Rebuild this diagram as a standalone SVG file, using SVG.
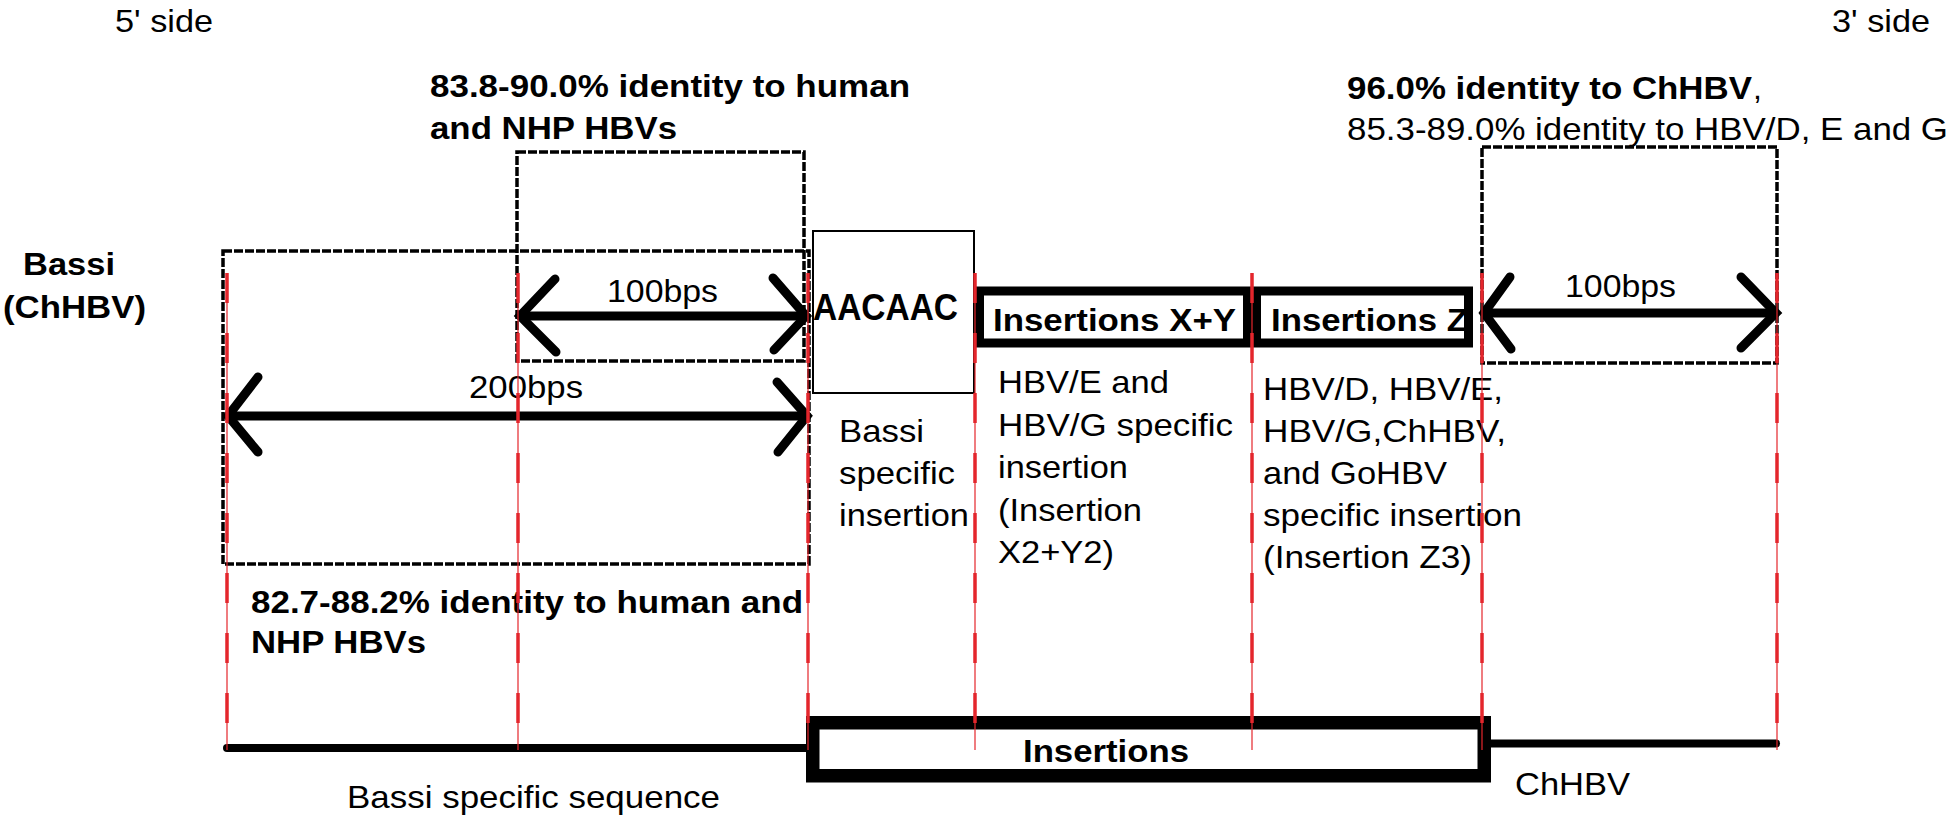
<svg xmlns="http://www.w3.org/2000/svg" width="1952" height="816" viewBox="0 0 1952 816">
<style>
text{font-family:"Liberation Sans",Arial,sans-serif;font-size:32px;fill:#000}
.b{font-weight:bold}
.dot{fill:none;stroke:#000;stroke-width:3.5;stroke-dasharray:9 2}
.arr{fill:none;stroke:#000;stroke-width:9;stroke-linecap:round;stroke-linejoin:miter}
.red{fill:none;stroke:#e4262c;stroke-width:1.2}
.redd{fill:none;stroke:#e4262c;stroke-width:3.5;stroke-dasharray:30 30}
.box{fill:#fff;stroke:#000;stroke-width:9}
</style>
<rect width="1952" height="816" fill="#fff"/>

<g id="side-labels">
<text x="115" y="32" textLength="98" lengthAdjust="spacingAndGlyphs">5' side</text>
<text x="1832" y="32" textLength="98" lengthAdjust="spacingAndGlyphs">3' side</text>
</g>

<g id="bassi-label">
<text class="b" x="23" y="275" textLength="92" lengthAdjust="spacingAndGlyphs">Bassi</text>
<text class="b" x="3" y="318" textLength="143" lengthAdjust="spacingAndGlyphs">(ChHBV)</text>
</g>

<g id="identity-100-left">
<text class="b" x="430" y="97" textLength="480" lengthAdjust="spacingAndGlyphs">83.8-90.0% identity to human</text>
<text class="b" x="430" y="139" textLength="247" lengthAdjust="spacingAndGlyphs">and NHP HBVs</text>
<rect class="dot" x="517" y="152" width="287" height="209"/>
</g>

<g id="identity-200-left">
<rect class="dot" x="223" y="251" width="586" height="313"/>
<text class="b" x="251" y="613" textLength="552" lengthAdjust="spacingAndGlyphs">82.7-88.2% identity to human and</text>
<text class="b" x="251" y="653" textLength="175" lengthAdjust="spacingAndGlyphs">NHP HBVs</text>
</g>

<g id="identity-100-right">
<text class="b" x="1347" y="99" textLength="405" lengthAdjust="spacingAndGlyphs">96.0% identity to ChHBV</text>
<text x="1753" y="99">,</text>
<text x="1347" y="140" textLength="601" lengthAdjust="spacingAndGlyphs">85.3-89.0% identity to HBV/D, E and G</text>
<rect class="dot" x="1482" y="147" width="295" height="216"/>
</g>

<g id="aacaac">
<rect x="813" y="231" width="161" height="162" fill="#fff" stroke="#000" stroke-width="2"/>
<text class="b" x="813" y="320" font-size="36" style="font-size:36px" textLength="145" lengthAdjust="spacingAndGlyphs">AACAAC</text>
<text x="839" y="442" textLength="85" lengthAdjust="spacingAndGlyphs">Bassi</text>
<text x="839" y="484" textLength="116" lengthAdjust="spacingAndGlyphs">specific</text>
<text x="839" y="526" textLength="130" lengthAdjust="spacingAndGlyphs">insertion</text>
</g>

<g id="insertions-xy">
<rect class="box" x="979.5" y="291" width="268" height="52"/>
<text class="b" x="993" y="331" textLength="243" lengthAdjust="spacingAndGlyphs">Insertions X+Y</text>
<text x="998" y="393" textLength="171" lengthAdjust="spacingAndGlyphs">HBV/E and</text>
<text x="998" y="436" textLength="235" lengthAdjust="spacingAndGlyphs">HBV/G specific</text>
<text x="998" y="478" textLength="130" lengthAdjust="spacingAndGlyphs">insertion</text>
<text x="998" y="521" textLength="144" lengthAdjust="spacingAndGlyphs">(Insertion</text>
<text x="998" y="563" textLength="116" lengthAdjust="spacingAndGlyphs">X2+Y2)</text>
</g>

<g id="insertions-z">
<rect class="box" x="1256.5" y="291" width="212" height="52"/>
<text class="b" x="1271" y="331" textLength="197" lengthAdjust="spacingAndGlyphs">Insertions Z</text>
<text x="1263" y="400" textLength="240" lengthAdjust="spacingAndGlyphs">HBV/D, HBV/E,</text>
<text x="1263" y="442" textLength="243" lengthAdjust="spacingAndGlyphs">HBV/G,ChHBV,</text>
<text x="1263" y="484" textLength="184" lengthAdjust="spacingAndGlyphs">and GoHBV</text>
<text x="1263" y="526" textLength="259" lengthAdjust="spacingAndGlyphs">specific insertion</text>
<text x="1263" y="568" textLength="209" lengthAdjust="spacingAndGlyphs">(Insertion Z3)</text>
</g>

<g id="bassi-sequence">
<line x1="227" y1="748" x2="808" y2="748" stroke="#000" stroke-width="8" stroke-linecap="round"/>
<text x="347" y="808" textLength="373" lengthAdjust="spacingAndGlyphs">Bassi specific sequence</text>
</g>

<g id="insertions-bottom">
<rect x="812.75" y="722.75" width="671.5" height="53" fill="#fff" stroke="#000" stroke-width="13.5"/>
<text class="b" x="1023" y="762" textLength="166" lengthAdjust="spacingAndGlyphs">Insertions</text>
</g>

<g id="chhbv-sequence">
<line x1="1491" y1="743.5" x2="1776" y2="743.5" stroke="#000" stroke-width="8" stroke-linecap="round"/>
<text x="1515" y="795" textLength="115" lengthAdjust="spacingAndGlyphs">ChHBV</text>
</g>

<g id="connectors">
<g id="arrow-100-left">
<line class="arr" x1="521" y1="316" x2="804" y2="316"/>
<polyline class="arr" points="555,279 520,316 556,352"/>
<polyline class="arr" points="773,278 806,316 774,350"/>
<text x="607" y="302" textLength="111" lengthAdjust="spacingAndGlyphs">100bps</text>
</g>
<g id="arrow-200">
<line class="arr" x1="229" y1="416" x2="806" y2="416"/>
<polyline class="arr" points="258,377 228,416 258,452"/>
<polyline class="arr" points="777,382 807,416 778,452"/>
<text x="469" y="398" textLength="114" lengthAdjust="spacingAndGlyphs">200bps</text>
</g>
<g id="arrow-100-right">
<line class="arr" x1="1485" y1="313" x2="1775" y2="313"/>
<polyline class="arr" points="1510,277 1484,313 1511,349"/>
<polyline class="arr" points="1741,277 1776,313 1741,348"/>
<text x="1565" y="297" textLength="111" lengthAdjust="spacingAndGlyphs">100bps</text>
</g>
<g id="red-guides">
<path class="red" d="M227 273V750M518 273V750M808 273V750M975 273V750M1252 273V750M1482 273V750M1777 273V750"/>
<path class="redd" d="M227 273V750M518 273V750M808 273V750M975 273V750M1252 273V750M1482 273V750M1777 273V750"/>
</g>
</g>
</svg>
